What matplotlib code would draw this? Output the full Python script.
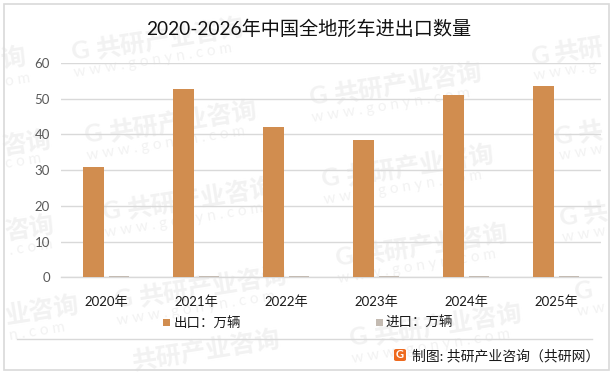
import matplotlib
matplotlib.use('Agg')
import matplotlib.pyplot as plt
from matplotlib.patches import Rectangle, FancyBboxPatch
from matplotlib.lines import Line2D

plt.rcParams['font.family'] = ['Lato', 'Noto Sans CJK SC', 'DejaVu Sans']

years = ['2020年', '2021年', '2022年', '2023年', '2024年', '2025年']
exports = [30.8, 52.7, 42.0, 38.4, 51.0, 53.5]
imports = [0.3, 0.3, 0.3, 0.3, 0.3, 0.3]
yticks = [0, 10, 20, 30, 40, 50, 60]
title = '2020-2026年中国全地形车进出口数量'

W, H = 614, 373
WM = '#f2f2f2'
WWW = 'w w w . g o n y n . c o m'

fig = plt.figure(figsize=(W / 100, H / 100), dpi=100, facecolor='white')


def fx(px):
    return px / W


def fy(py):
    return 1 - py / H


def wm_text(px, py, s, size, weight='normal'):
    fig.text(fx(px), fy(py), s, color=WM, fontsize=size, fontweight=weight,
             rotation=9, rotation_mode='anchor', zorder=0)


# full watermarks
for mx, my in [(72, 60), (85, 143), (103, 220), (115, 308),
               (310, 105), (322, 187), (336, 266), (350, 346)]:
    wm_text(mx, my, 'G', 18, 'bold')
    wm_text(mx + 25, my - 2, '共研产业咨询', 18, 'bold')
    wm_text(mx + 3, my + 17, WWW, 11)

# the ones the picture edges cut into
wm_text(133, 370, '共研产业咨询', 18, 'bold')
wm_text(2, 68, '询', 18, 'bold')
wm_text(6, 86, 'o m', 11)
wm_text(3, 155, '咨询', 18, 'bold')
wm_text(6, 168, 'c o m', 11)
wm_text(6, 240, '咨询', 18, 'bold')
wm_text(10, 255, '. c o m', 11)
wm_text(6, 324, '业咨询', 18, 'bold')
wm_text(10, 340, 'n . c o m', 11)
wm_text(532, 65, 'G', 18, 'bold')
wm_text(556, 62, '共研', 18, 'bold')
wm_text(535, 80, 'w w w . g', 11)
wm_text(555, 145, 'G', 18, 'bold')
wm_text(580, 142, '共', 18, 'bold')
wm_text(560, 160, 'w w w', 11)
wm_text(560, 226, 'G', 18, 'bold')
wm_text(585, 223, '共', 18, 'bold')
wm_text(563, 242, 'w w w', 11)
wm_text(575, 300, 'G', 18, 'bold')
wm_text(578, 316, 'w w', 11)

# outer frame
fig.add_artist(Rectangle((fx(4), fy(370)), (W - 9) / W, 366 / H, transform=fig.transFigure,
                         fill=False, edgecolor='#d9d9d9', linewidth=1.2))

ax = fig.add_axes([fx(61), fy(277.3), 540 / W, 214.3 / H], zorder=2)
ax.patch.set_alpha(0)
x = list(range(len(years)))
bar_w = 21 / 90
off = 13 / 90
ax.bar([i - off for i in x], exports, width=bar_w, color='#d18d4f', zorder=3)
ax.bar([i + off for i in x], imports, width=bar_w * 0.95, color='#c4bbb2', zorder=3)

ax.set_xlim(-0.5, 5.5)
ax.set_ylim(0, 60)
ax.set_yticks(yticks)
ax.set_xticks(x)
ax.set_xticklabels(years)
ax.grid(axis='y', color='#d9d9d9', linewidth=1, zorder=1)
ax.set_axisbelow(True)
for s in ['top', 'right', 'left']:
    ax.spines[s].set_visible(False)
ax.spines['bottom'].set_color('#d9d9d9')
ax.spines['bottom'].set_linewidth(1)
ax.tick_params(axis='x', length=0, pad=13, labelsize=9.5, labelcolor='#1a1a1a')
ax.tick_params(axis='y', length=0, pad=8, labelsize=9.5, labelcolor='#595959')

fig.text(fx(308.5), fy(29), title, ha='center', va='center', fontsize=13.8, color='#111111')

# legend, placed by hand like the original
fig.add_artist(Rectangle((fx(163), fy(326)), 7 / W, 7 / H, transform=fig.transFigure,
                         facecolor='#d18d4f', edgecolor='none'))
fig.text(fx(174), fy(322), '出口：万辆', va='center', fontsize=9.7, color='#1a1a1a')
fig.add_artist(Rectangle((fx(376), fy(326)), 7 / W, 7 / H, transform=fig.transFigure,
                         facecolor='#c4bbb2', edgecolor='none'))
fig.text(fx(386), fy(322), '进口：万辆', va='center', fontsize=9.7, color='#1a1a1a')

# footer rule and source
fig.add_artist(Line2D([fx(17), fx(592)], [fy(339), fy(339)], transform=fig.transFigure,
                      color='#d9d9d9', linewidth=1))
fig.add_artist(FancyBboxPatch((fx(394), fy(361)), 12 / W, 12 / H, transform=fig.transFigure,
                              boxstyle='round,pad=0,rounding_size=0.004',
                              facecolor='#ee6a1f', edgecolor='none'))
fig.text(fx(400), fy(355), 'G', ha='center', va='center', fontsize=8, fontweight='bold', color='white')
fig.text(fx(412), fy(356), '制图: 共研产业咨询（共研网）', va='center', fontsize=10, color='#1a1a1a')

fig.savefig('out.png', dpi=100)
